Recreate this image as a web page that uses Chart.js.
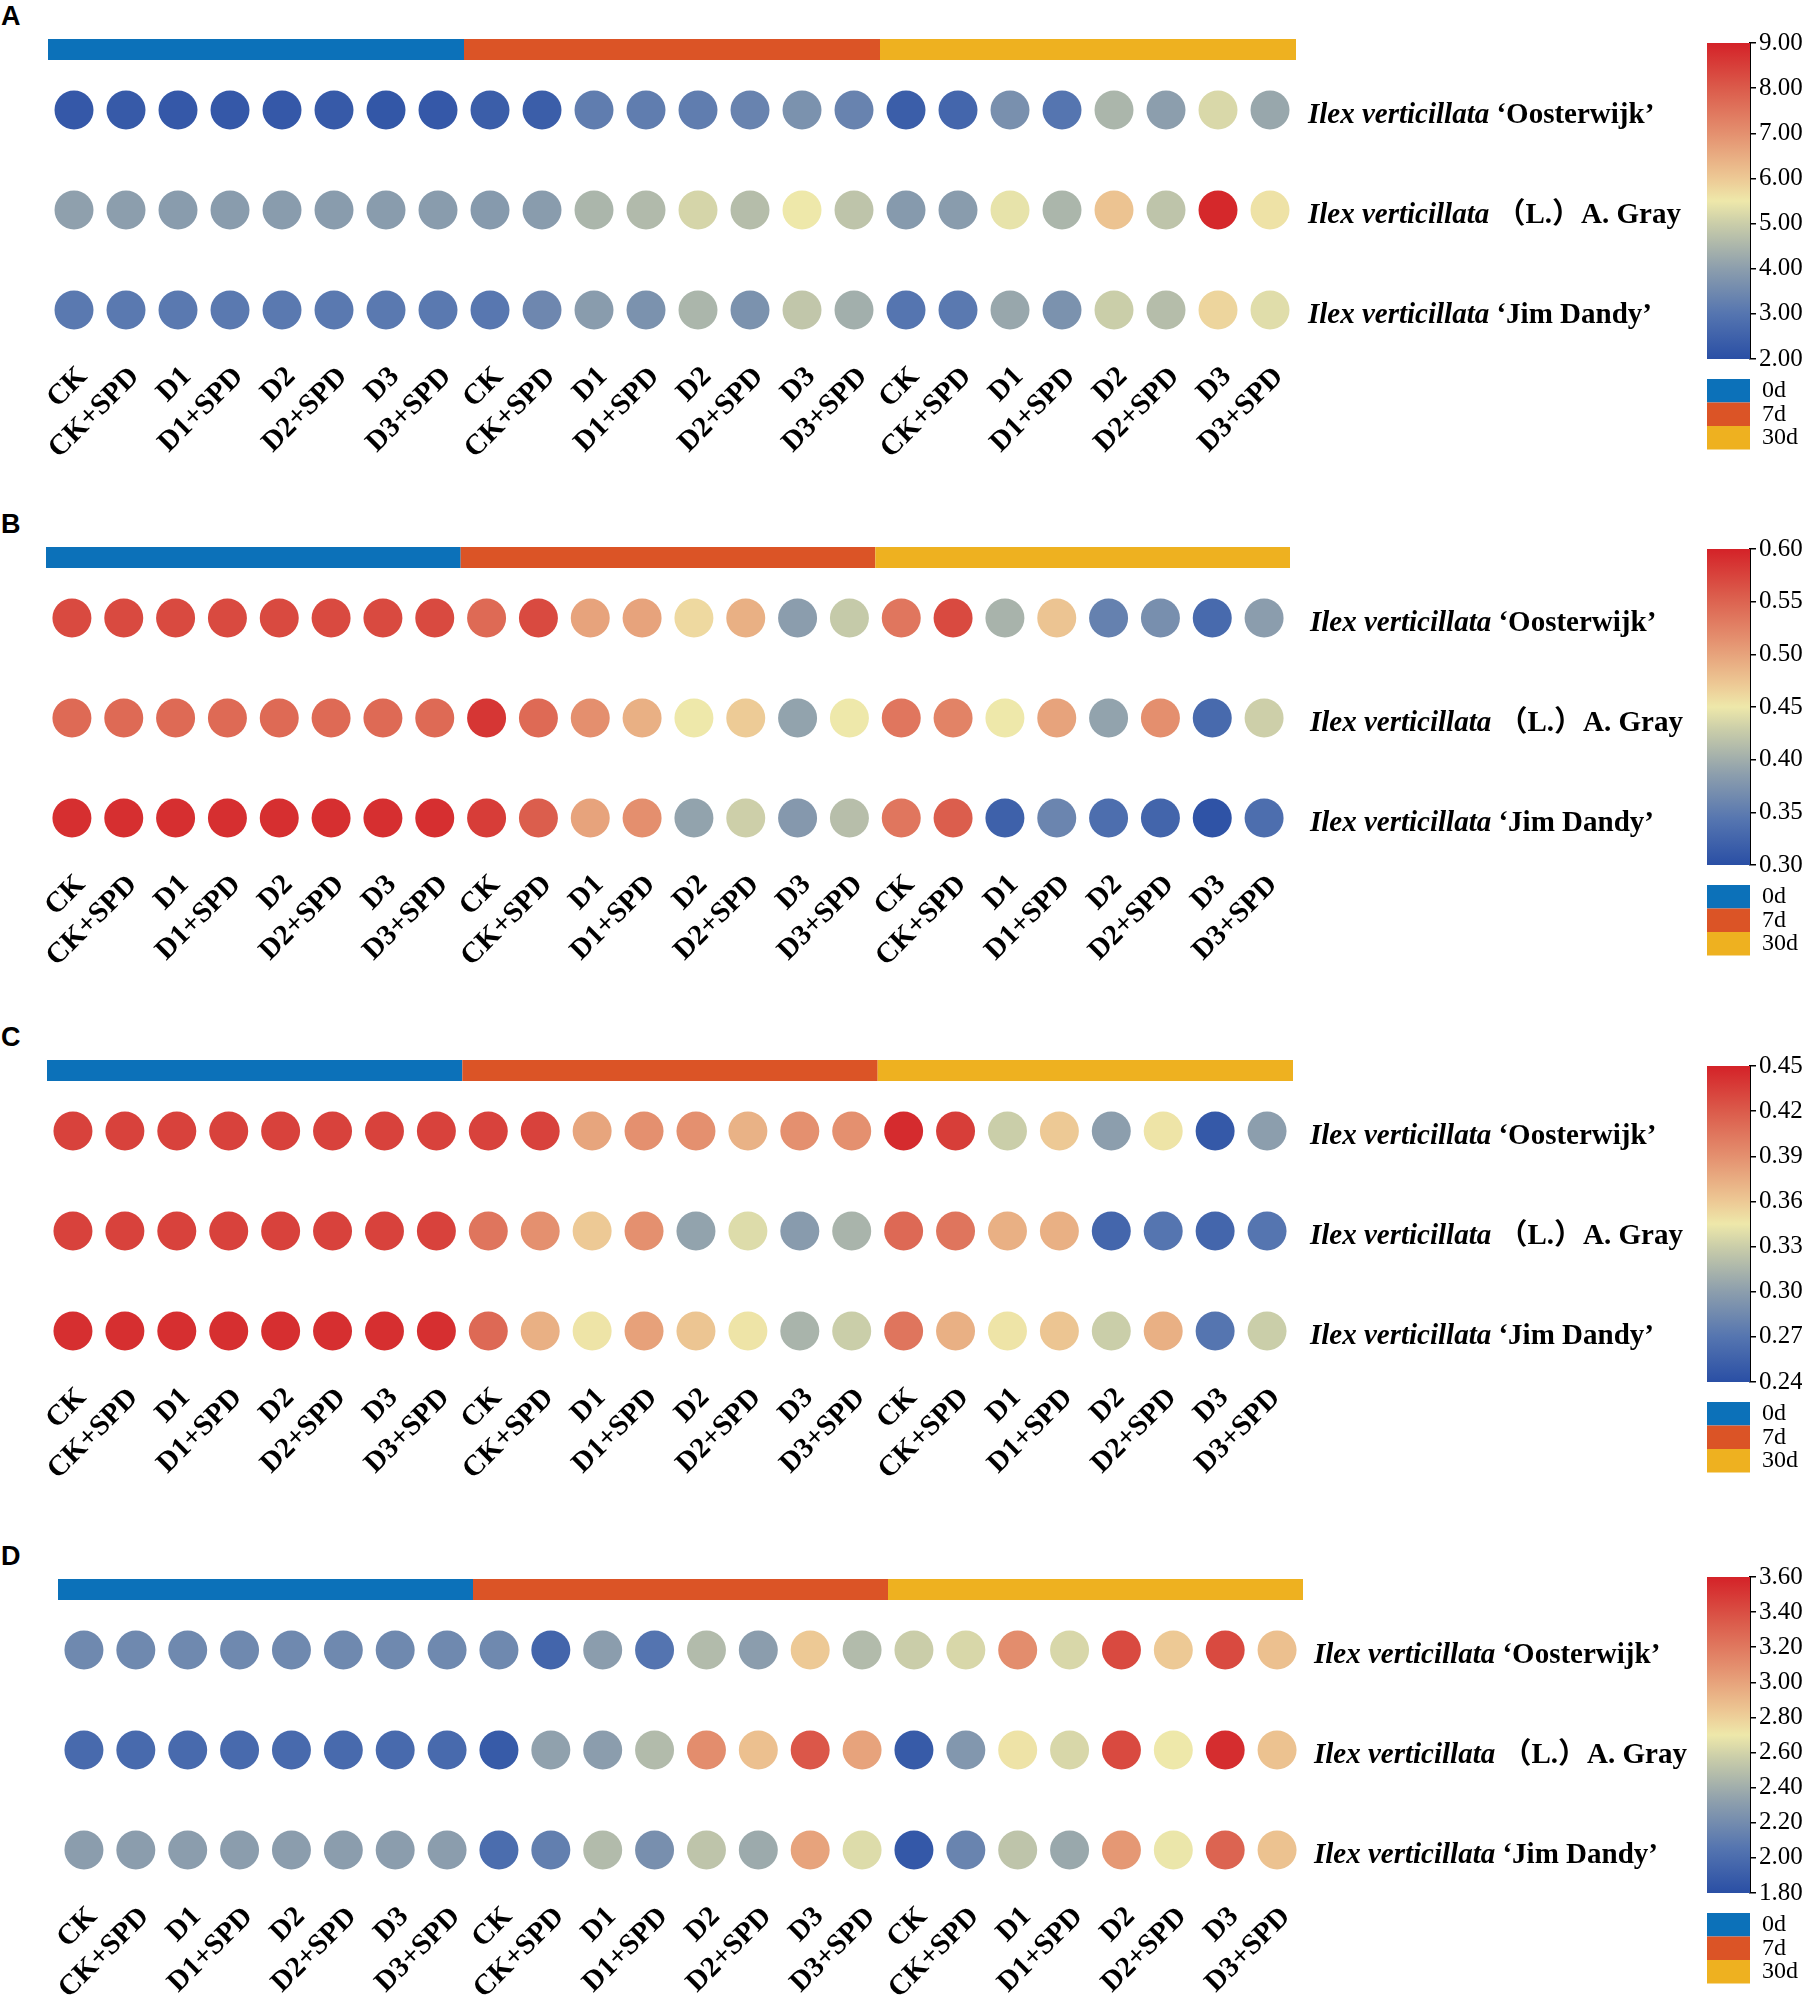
<!DOCTYPE html>
<html>
<head>
<meta charset="utf-8">
<script src="https://cdn.jsdelivr.net/npm/chart.js@4.4.1/dist/chart.umd.min.js"></script>
<style>
  body { margin: 0; background: #fff; }
  #page { position: relative; width: 1802px; height: 1996px; overflow: hidden; background: #fff; }
  .letter { position: absolute; left: 1px; font: bold 27px "Liberation Sans Narrow", "Liberation Sans", sans-serif; line-height: 1; color: #000; }
  canvas { position: absolute; }
</style>
</head>
<body>
<div id="page"></div>
<script>
const treatments = ["CK", "CK+SPD", "D1", "D1+SPD", "D2", "D2+SPD", "D3", "D3+SPD"];
const xLabels = [...treatments, ...treatments, ...treatments];
const stages = ["0d", "7d", "30d"];
const stageColors = ["#0C71B9", "#DB5426", "#EEB120"];
const speciesSuffix = ["\u2018Oosterwijk\u2019", "\uFF08L.\uFF09A. Gray", "\u2018Jim Dandy\u2019"];

/* panel A */
const aOost = [2.25, 2.3, 2.25, 2.25, 2.25, 2.3, 2.2, 2.25, 2.4, 2.4, 3.2, 3.2, 3.2, 3.35, 3.7, 3.35, 2.4, 2.6, 3.65, 3.0, 4.5, 4.0, 5.2, 4.2];
const aGray = [4.05, 4.0, 3.95, 3.95, 3.95, 3.95, 3.95, 3.95, 3.9, 3.95, 4.5, 4.6, 5.15, 4.65, 5.5, 4.8, 3.9, 3.95, 5.4, 4.5, 6.1, 4.8, 8.9, 5.6];
const aJim = [3.1, 3.1, 3.1, 3.1, 3.1, 3.1, 3.1, 3.1, 3.05, 3.45, 3.95, 3.7, 4.5, 3.7, 4.85, 4.35, 3.0, 3.1, 4.2, 3.7, 5.0, 4.65, 5.8, 5.3];
const aTicks = [2, 3, 4, 5, 6, 7, 8, 9];

/* panel B */
const bOost = [0.57, 0.57, 0.57, 0.57, 0.57, 0.57, 0.57, 0.57, 0.545, 0.57, 0.50, 0.50, 0.46, 0.49, 0.385, 0.425, 0.535, 0.57, 0.405, 0.475, 0.355, 0.37, 0.33, 0.385];
const bGray = [0.545, 0.545, 0.545, 0.545, 0.545, 0.545, 0.545, 0.545, 0.585, 0.545, 0.515, 0.49, 0.45, 0.47, 0.39, 0.45, 0.535, 0.525, 0.45, 0.50, 0.39, 0.515, 0.33, 0.43];
const bJim = [0.59, 0.59, 0.59, 0.59, 0.59, 0.59, 0.59, 0.59, 0.58, 0.555, 0.50, 0.515, 0.39, 0.43, 0.38, 0.415, 0.535, 0.555, 0.32, 0.36, 0.335, 0.325, 0.305, 0.335];
const bTicks = [0.30, 0.35, 0.40, 0.45, 0.50, 0.55, 0.60];

/* panel C */
const cOost = [0.433, 0.433, 0.433, 0.433, 0.433, 0.433, 0.433, 0.433, 0.433, 0.433, 0.379, 0.39, 0.39, 0.372, 0.39, 0.39, 0.445, 0.435, 0.33, 0.36, 0.30, 0.347, 0.248, 0.30];
const cGray = [0.433, 0.433, 0.433, 0.433, 0.433, 0.433, 0.433, 0.433, 0.405, 0.39, 0.36, 0.39, 0.303, 0.338, 0.298, 0.314, 0.412, 0.405, 0.373, 0.373, 0.258, 0.27, 0.258, 0.27];
const cJim = [0.443, 0.443, 0.443, 0.443, 0.443, 0.443, 0.443, 0.443, 0.412, 0.373, 0.347, 0.381, 0.362, 0.347, 0.314, 0.33, 0.405, 0.373, 0.347, 0.362, 0.33, 0.373, 0.27, 0.33];
const cTicks = [0.24, 0.27, 0.30, 0.33, 0.36, 0.39, 0.42, 0.45];

/* panel D */
const dOost = [2.18, 2.18, 2.18, 2.18, 2.18, 2.18, 2.18, 2.18, 2.18, 1.95, 2.31, 2.05, 2.47, 2.31, 2.83, 2.47, 2.57, 2.62, 3.10, 2.62, 3.42, 2.83, 3.42, 2.87];
const dGray = [1.98, 1.98, 1.98, 1.98, 1.98, 1.98, 1.98, 1.98, 1.88, 2.33, 2.31, 2.47, 3.10, 2.87, 3.36, 3.0, 1.88, 2.27, 2.72, 2.62, 3.42, 2.70, 3.55, 2.86];
const dJim = [2.31, 2.31, 2.31, 2.31, 2.31, 2.31, 2.31, 2.31, 2.0, 2.12, 2.47, 2.22, 2.52, 2.38, 3.0, 2.64, 1.86, 2.15, 2.52, 2.37, 3.05, 2.69, 3.3, 2.86];
const dTicks = [1.8, 2.0, 2.2, 2.4, 2.6, 2.8, 3.0, 3.2, 3.4, 3.6];

// colour ramp of the colorbar (position 0..1 -> colour)
const ramp = [
  [0, "#2A4FA5"], [0.143, "#5575B0"], [0.286, "#8C9EAD"], [0.43, "#CBCEA9"],
  [0.5, "#EEE8AA"], [0.571, "#EDC995"], [0.714, "#E4906F"], [0.857, "#DB5B4B"], [1, "#D42228"]
];

const panels = [
  { letter: "A", top: 39, left: 48, right: 1296, nameX: 1308, rows: [aOost, aGray, aJim], ticks: aTicks, cbTop: 39 },
  { letter: "B", top: 547, left: 46, right: 1290, nameX: 1310, rows: [bOost, bGray, bJim], ticks: bTicks, cbTop: 545 },
  { letter: "C", top: 1060, left: 47, right: 1293, nameX: 1310, rows: [cOost, cGray, cJim], ticks: cTicks, cbTop: 1062 },
  { letter: "D", top: 1579, left: 58, right: 1303, nameX: 1314, rows: [dOost, dGray, dJim], ticks: dTicks, cbTop: 1573 }
];

const SERIF = '"Liberation Serif", "Times New Roman", serif';
const page = document.getElementById("page");

function hex(c) {
  return [1, 3, 5].map(i => parseInt(c.slice(i, i + 2), 16));
}

function rampColor(t) {
  t = Math.min(Math.max(t, 0), 1);
  for (let i = 1; i < ramp.length; i++) {
    if (t <= ramp[i][0]) {
      const [t0, c0] = ramp[i - 1], [t1, c1] = ramp[i];
      const f = (t - t0) / (t1 - t0);
      const a = hex(c0), b = hex(c1);
      return "rgb(" + a.map((v, k) => Math.round(v + (b[k] - v) * f)).join(",") + ")";
    }
  }
  return ramp[ramp.length - 1][1];
}

function addCanvas(left, top, w, h) {
  const c = document.createElement("canvas");
  c.style.left = left + "px";
  c.style.top = top + "px";
  c.style.width = w + "px";
  c.style.height = h + "px";
  c.width = w;
  c.height = h;
  page.appendChild(c);
  return c;
}

/* stage bar + species names */
const decorPlugin = {
  id: "decor",
  beforeDatasetsDraw(chart, args, opts) {
    const { ctx, scales: { x, y } } = chart;
    const y0 = y.getPixelForValue(-0.71), y1 = y.getPixelForValue(-0.5);
    stages.forEach((s, g) => {
      const x0 = x.getPixelForValue(g * 8 - 0.5), x1 = x.getPixelForValue(g * 8 + 7.5);
      ctx.fillStyle = stageColors[g];
      ctx.fillRect(x0, y0, x1 - x0, y1 - y0);
    });
  },
  afterDraw(chart, args, opts) {
    const { ctx, scales: { y } } = chart;
    ctx.save();
    ctx.fillStyle = "#000";
    ctx.textBaseline = "middle";
    speciesSuffix.forEach((s, i) => {
      const py = y.getPixelForValue(i) + 6;
      const px = opts.nameX;
      ctx.font = "italic bold 29px " + SERIF;
      ctx.fillText("Ilex verticillata", px, py);
      const w = ctx.measureText("Ilex verticillata").width;
      ctx.font = 'bold 29px ' + SERIF + ', "Noto Sans CJK SC"';
      ctx.fillText(" " + s, px + w, py);
    });
    ctx.restore();
  }
};

/* 0d / 7d / 30d swatches under the colorbar */
const swatchPlugin = {
  id: "swatch",
  afterDraw(chart) {
    const { ctx, chartArea } = chart;
    ctx.save();
    ctx.font = "24px " + SERIF;
    ctx.textBaseline = "middle";
    stages.forEach((s, i) => {
      const top = chartArea.bottom + 20 + i * 23.5;
      ctx.fillStyle = stageColors[i];
      ctx.fillRect(chartArea.left, top, chartArea.right - chartArea.left, 23.5);
      ctx.fillStyle = "#000";
      ctx.fillText(s, chartArea.right + 12, top + 12);
    });
    ctx.restore();
  }
};

panels.forEach(p => {
  const div = document.createElement("div");
  div.className = "letter";
  div.style.top = (p.top - 36) + "px";
  div.textContent = p.letter;
  page.appendChild(div);

  const min = p.ticks[0], max = p.ticks[p.ticks.length - 1];
  const W = 1700, H = 431;
  const canvas = addCanvas(0, p.top, W, H);

  new Chart(canvas, {
    type: "scatter",
    data: {
      datasets: p.rows.map((vals, r) => ({
        data: vals.map((v, i) => ({ x: i, y: r, v })),
        pointRadius: 19.5,
        pointHoverRadius: 19.5,
        borderWidth: 0,
        backgroundColor: ctx => rampColor((ctx.raw.v - min) / (max - min))
      }))
    },
    options: {
      responsive: false,
      animation: false,
      events: [],
      layout: { padding: { left: p.left, right: W - p.right, top: 21, bottom: 0 } },
      plugins: { legend: { display: false }, tooltip: { enabled: false }, decor: { nameX: p.nameX } },
      scales: {
        x: {
          type: "linear",
          min: -0.5,
          max: 23.5,
          afterBuildTicks: s => { s.ticks = xLabels.map((_, i) => ({ value: i })); },
          afterFit: s => { s.height = 110; },
          grid: { display: false, drawTicks: false },
          border: { display: false },
          ticks: {
            autoSkip: false,
            minRotation: 45,
            maxRotation: 45,
            padding: 0,
            labelOffset: 9,
            color: "#000",
            font: { family: SERIF, weight: "bold", size: 29 },
            callback: v => xLabels[v]
          }
        },
        y: {
          type: "linear",
          min: -0.5,
          max: 2.5,
          reverse: true,
          display: false
        }
      }
    },
    plugins: [decorPlugin]
  });

  // colorbar
  const cbCanvas = addCanvas(1707, p.cbTop - 14, 95, 320 + 14 + 110);
  new Chart(cbCanvas, {
    type: "bar",
    data: {
      labels: [""],
      datasets: [{
        data: [[min, max]],
        barPercentage: 1,
        categoryPercentage: 1,
        borderWidth: 0,
        backgroundColor: ctx => {
          const { chart } = ctx;
          const area = chart.chartArea;
          if (!area) return "#888";
          const g = chart.ctx.createLinearGradient(0, area.bottom, 0, area.top);
          ramp.forEach(([t, c]) => g.addColorStop(t, c));
          return g;
        }
      }]
    },
    options: {
      responsive: false,
      animation: false,
      events: [],
      layout: { padding: { left: 0, right: 0, top: 14, bottom: 110 } },
      plugins: { legend: { display: false }, tooltip: { enabled: false } },
      scales: {
        x: { display: false },
        y: {
          position: "right",
          min,
          max,
          afterBuildTicks: s => { s.ticks = p.ticks.map(v => ({ value: v })); },
          afterFit: s => { s.width = 52; },
          border: { display: true, color: "#000", width: 2 },
          grid: { drawOnChartArea: false, drawTicks: true, tickLength: 6, color: "#000", lineWidth: 1.5 },
          ticks: {
            padding: 3,
            color: "#000",
            font: { family: SERIF, size: 25 },
            callback: v => v.toFixed(2)
          }
        }
      }
    },
    plugins: [swatchPlugin]
  });
});
</script>
</body>
</html>
